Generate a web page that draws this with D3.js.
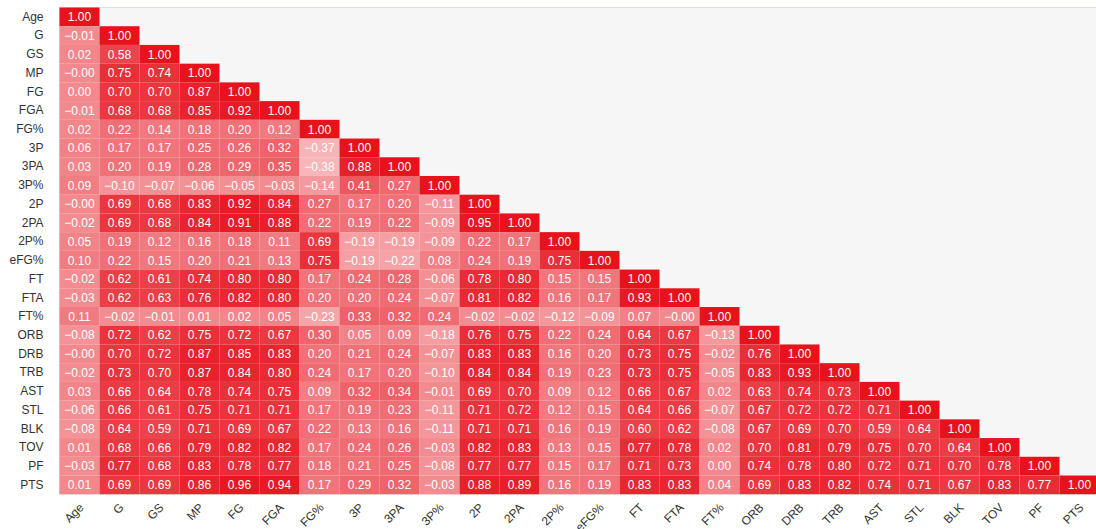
<!DOCTYPE html>
<html>
<head>
<meta charset="utf-8">
<script src="https://cdn.jsdelivr.net/npm/d3@7"></script>
<style>
  html, body { margin: 0; padding: 0; background: #ffffff; overflow: hidden; }
  svg { display: block; }
  text { font-family: "Helvetica Neue", Helvetica, "Liberation Sans", Arial, sans-serif; }
</style>
</head>
<body>
<svg id="chart" width="1096" height="529"></svg>
<script>
// Player stat names, in row / column order
const stats = ["Age","G","GS","MP","FG","FGA","FG%","3P","3PA","3P%","2P","2PA","2P%","eFG%",
  "FT","FTA","FT%","ORB","DRB","TRB","AST","STL","BLK","TOV","PF","PTS"];

// Lower triangle of the correlation matrix (row i holds columns 0..i); -0 marks values that round to −0.00
const corrRows = [
  [1.00],
  [-0.01, 1.00],
  [0.02, 0.58, 1.00],
  [-0, 0.75, 0.74, 1.00],
  [0.00, 0.70, 0.70, 0.87, 1.00],
  [-0.01, 0.68, 0.68, 0.85, 0.92, 1.00],
  [0.02, 0.22, 0.14, 0.18, 0.20, 0.12, 1.00],
  [0.06, 0.17, 0.17, 0.25, 0.26, 0.32, -0.37, 1.00],
  [0.03, 0.20, 0.19, 0.28, 0.29, 0.35, -0.38, 0.88, 1.00],
  [0.09, -0.10, -0.07, -0.06, -0.05, -0.03, -0.14, 0.41, 0.27, 1.00],
  [-0, 0.69, 0.68, 0.83, 0.92, 0.84, 0.27, 0.17, 0.20, -0.11, 1.00],
  [-0.02, 0.69, 0.68, 0.84, 0.91, 0.88, 0.22, 0.19, 0.22, -0.09, 0.95, 1.00],
  [0.05, 0.19, 0.12, 0.16, 0.18, 0.11, 0.69, -0.19, -0.19, -0.09, 0.22, 0.17, 1.00],
  [0.10, 0.22, 0.15, 0.20, 0.21, 0.13, 0.75, -0.19, -0.22, 0.08, 0.24, 0.19, 0.75, 1.00],
  [-0.02, 0.62, 0.61, 0.74, 0.80, 0.80, 0.17, 0.24, 0.28, -0.06, 0.78, 0.80, 0.15, 0.15, 1.00],
  [-0.03, 0.62, 0.63, 0.76, 0.82, 0.80, 0.20, 0.20, 0.24, -0.07, 0.81, 0.82, 0.16, 0.17, 0.93, 1.00],
  [0.11, -0.02, -0.01, 0.01, 0.02, 0.05, -0.23, 0.33, 0.32, 0.24, -0.02, -0.02, -0.12, -0.09, 0.07, -0, 1.00],
  [-0.08, 0.72, 0.62, 0.75, 0.72, 0.67, 0.30, 0.05, 0.09, -0.18, 0.76, 0.75, 0.22, 0.24, 0.64, 0.67, -0.13, 1.00],
  [-0, 0.70, 0.72, 0.87, 0.85, 0.83, 0.20, 0.21, 0.24, -0.07, 0.83, 0.83, 0.16, 0.20, 0.73, 0.75, -0.02, 0.76, 1.00],
  [-0.02, 0.73, 0.70, 0.87, 0.84, 0.80, 0.24, 0.17, 0.20, -0.10, 0.84, 0.84, 0.19, 0.23, 0.73, 0.75, -0.05, 0.83, 0.93, 1.00],
  [0.03, 0.66, 0.64, 0.78, 0.74, 0.75, 0.09, 0.32, 0.34, -0.01, 0.69, 0.70, 0.09, 0.12, 0.66, 0.67, 0.02, 0.63, 0.74, 0.73, 1.00],
  [-0.06, 0.66, 0.61, 0.75, 0.71, 0.71, 0.17, 0.19, 0.23, -0.11, 0.71, 0.72, 0.12, 0.15, 0.64, 0.66, -0.07, 0.67, 0.72, 0.72, 0.71, 1.00],
  [-0.08, 0.64, 0.59, 0.71, 0.69, 0.67, 0.22, 0.13, 0.16, -0.11, 0.71, 0.71, 0.16, 0.19, 0.60, 0.62, -0.08, 0.67, 0.69, 0.70, 0.59, 0.64, 1.00],
  [0.01, 0.68, 0.66, 0.79, 0.82, 0.82, 0.17, 0.24, 0.26, -0.03, 0.82, 0.83, 0.13, 0.15, 0.77, 0.78, 0.02, 0.70, 0.81, 0.79, 0.75, 0.70, 0.64, 1.00],
  [-0.03, 0.77, 0.68, 0.83, 0.78, 0.77, 0.18, 0.21, 0.25, -0.08, 0.77, 0.77, 0.15, 0.17, 0.71, 0.73, 0.00, 0.74, 0.78, 0.80, 0.72, 0.71, 0.70, 0.78, 1.00],
  [0.01, 0.69, 0.69, 0.86, 0.96, 0.94, 0.17, 0.29, 0.32, -0.03, 0.88, 0.89, 0.16, 0.19, 0.83, 0.83, 0.04, 0.69, 0.83, 0.82, 0.74, 0.71, 0.67, 0.83, 0.77, 1.00]
];

// Flatten into cell records
const cells = [];
corrRows.forEach((row, i) => row.forEach((v, j) => cells.push({ row: stats[i], col: stats[j], value: v })));

const svg = d3.select("#chart");
const plotLeft = 59.5, plotTop = 7.5, cellW = 40, cellH = 18.72;
const plotW = cellW * stats.length, plotH = cellH * stats.length;

const x = d3.scaleBand().domain(stats).range([plotLeft, plotLeft + plotW]).padding(0);
const y = d3.scaleBand().domain(stats).range([plotTop, plotTop + plotH]).padding(0);
const color = d3.scaleLinear().domain([-1, 1]).range(["#ffffff", "#e6121c"]).interpolate(d3.interpolateRgb);
const f2 = d3.format(".2f");
// Two decimals with a true minus sign, keeping the sign of negative zero
const fmt = v => (v < 0 || Object.is(v, -0) ? "\u2212" : "") + f2(Math.abs(v));

// Plot background
svg.append("rect")
  .attr("x", plotLeft).attr("y", plotTop)
  .attr("width", plotW).attr("height", plotH)
  .attr("fill", "#f6f6f6")
  .attr("stroke", "#dedee8").attr("stroke-width", 1);

// Heatmap cells
const g = svg.append("g");
g.selectAll("rect.cell").data(cells).join("rect")
  .attr("class", "cell")
  .attr("x", d => x(d.col)).attr("y", d => y(d.row))
  .attr("width", x.bandwidth()).attr("height", y.bandwidth())
  .attr("fill", d => color(d.value));

g.selectAll("text.val").data(cells).join("text")
  .attr("class", "val")
  .attr("x", d => x(d.col) + x.bandwidth() / 2)
  .attr("y", d => y(d.row) + y.bandwidth() / 2)
  .attr("dy", "0.36em")
  .attr("text-anchor", "middle")
  .attr("fill", "#ffffff")
  .attr("font-size", 12)
  .text(d => fmt(d.value));

// Row labels
const yAxis = svg.append("g")
  .attr("transform", `translate(${plotLeft - 16},0)`)
  .call(d3.axisLeft(y).tickSize(0).tickPadding(0));
yAxis.select(".domain").remove();
yAxis.selectAll("text").attr("font-size", 12).attr("fill", "#333").attr("font-family", null);

// Column labels, slanted
const xAxis = svg.append("g")
  .attr("transform", `translate(0,${plotTop + plotH})`)
  .call(d3.axisBottom(x).tickSize(0).tickPadding(0));
xAxis.select(".domain").remove();
xAxis.selectAll("text")
  .attr("font-size", 12).attr("fill", "#333").attr("font-family", null)
  .attr("text-anchor", "end")
  .attr("dy", null).attr("y", 0)
  .attr("transform", "translate(5,14) rotate(-45)");
</script>
</body>
</html>
